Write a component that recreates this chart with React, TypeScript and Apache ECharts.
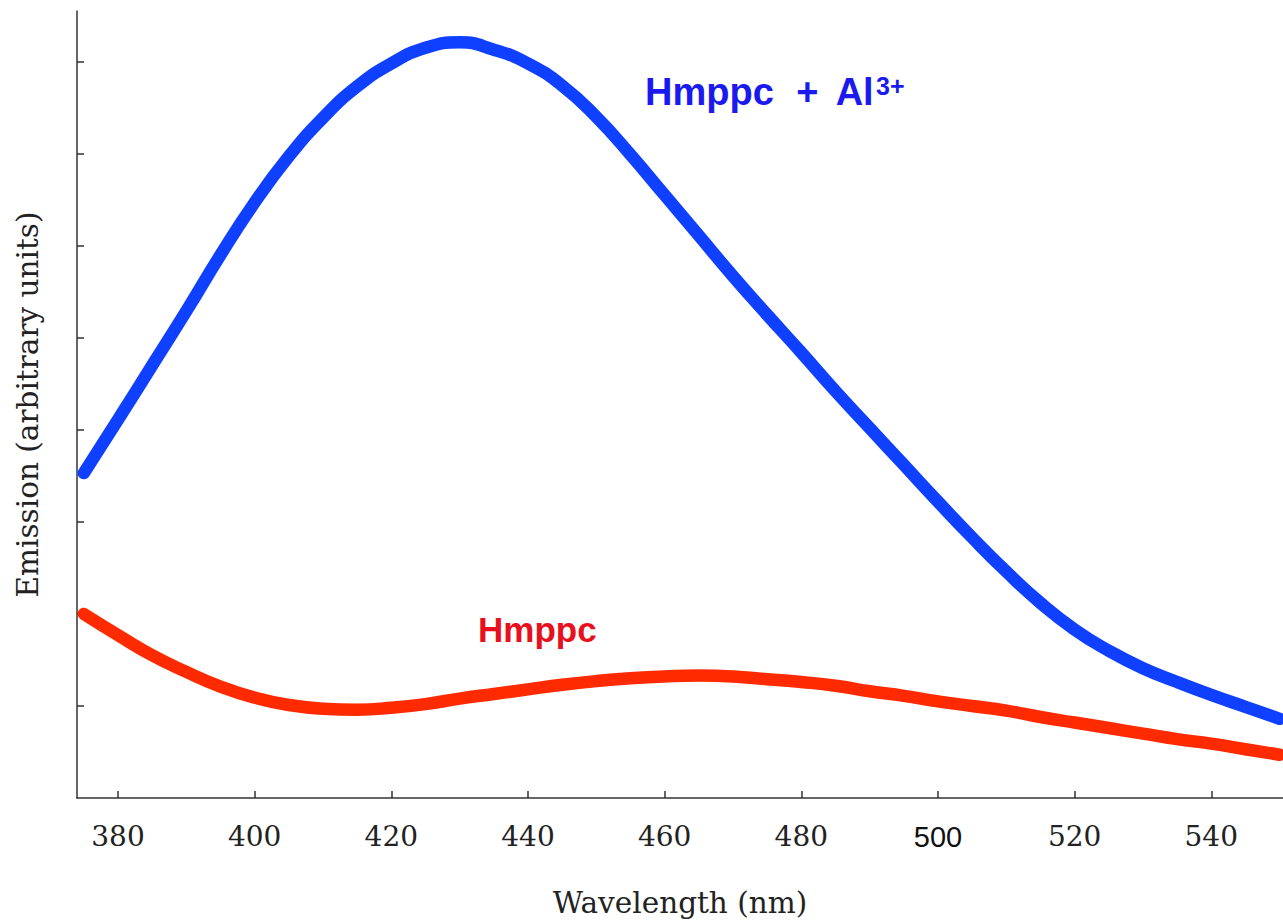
import React, { useEffect, useRef } from "react";
import * as echarts from "echarts";

// Wavelength (nm) / emission (arbitrary units)
const wavelengths = [375, 380, 385, 390, 395, 400, 405, 410, 415, 420, 425, 430, 435, 440, 445, 450, 455, 460, 465, 470, 475, 480, 485, 490, 495, 500, 505, 510, 515, 520, 525, 530, 535, 540, 545, 550];
const hmppcAl = [3.53, 4.11, 4.70, 5.29, 5.90, 6.47, 6.97, 7.39, 7.73, 7.98, 8.15, 8.21, 8.13, 7.98, 7.74, 7.40, 6.99, 6.55, 6.11, 5.67, 5.25, 4.84, 4.42, 4.02, 3.62, 3.22, 2.83, 2.46, 2.12, 1.83, 1.60, 1.41, 1.26, 1.12, 0.99, 0.86];
const hmppc = [2.00, 1.77, 1.55, 1.37, 1.21, 1.09, 1.01, 0.97, 0.96, 0.98, 1.02, 1.08, 1.13, 1.18, 1.23, 1.27, 1.30, 1.32, 1.33, 1.32, 1.29, 1.26, 1.22, 1.16, 1.11, 1.05, 1.00, 0.95, 0.88, 0.82, 0.76, 0.70, 0.64, 0.59, 0.53, 0.47];
const xTicks = [380, 400, 420, 440, 460, 480, 500, 520, 540];
const yTicks = [1, 2, 3, 4, 5, 6, 7, 8];
const seriesNames = ["Hmppc + Al3+", "Hmppc"];

const SERIF = "'DejaVu Serif', 'Liberation Serif', serif";
const SANS = "'Liberation Sans', Arial, sans-serif";

export default function App() {
  const ref = useRef<HTMLDivElement>(null);
  useEffect(() => {
    if (!ref.current) return;
    const chart = echarts.init(ref.current, null, { renderer: "svg" });
    const pair = (xs: number[], ys: number[]) => xs.map((x, i) => [x, ys[i]]);
    chart.setOption({
      animation: false,
      backgroundColor: "#ffffff",
      grid: { left: 77, right: 0, top: 11, bottom: 126, containLabel: false, outerBoundsMode: "none" },
      xAxis: {
        type: "value",
        min: 374,
        max: 550.5,
        name: "Wavelength (nm)",
        nameLocation: "middle",
        nameGap: 90,
        nameTextStyle: { fontFamily: SERIF, fontSize: 29.5, color: "#222" },
        axisLine: { show: true, lineStyle: { color: "#333", width: 1.5 } },
        axisTick: { show: true, inside: true, length: 7, customValues: xTicks, lineStyle: { color: "#333", width: 1.5 } },
        axisLabel: {
          show: true,
          customValues: xTicks,
          margin: 24,
          fontFamily: SERIF,
          fontSize: 28,
          color: "#222",
          formatter: (v: number) => (v === 500 ? "{b|500}" : String(v)),
          rich: { b: { fontFamily: SANS, fontSize: 29, color: "#111" } },
        },
        splitLine: { show: false },
      },
      yAxis: {
        type: "value",
        min: 0,
        max: 8.55,
        name: "Emission (arbitrary units)",
        nameLocation: "middle",
        nameGap: 34,
        nameTextStyle: { fontFamily: SERIF, fontSize: 29.5, color: "#222" },
        axisLine: { show: true, lineStyle: { color: "#333", width: 1.5 } },
        axisTick: { show: true, inside: true, length: 7, customValues: yTicks, lineStyle: { color: "#333", width: 1.5 } },
        axisLabel: { show: false },
        splitLine: { show: false },
      },
      series: [
        {
          name: seriesNames[0],
          type: "line",
          smooth: true,
          symbol: "none",
          data: pair(wavelengths, hmppcAl),
          lineStyle: { color: "#1040ff", width: 12.5, cap: "round", join: "round" },
        },
        {
          name: seriesNames[1],
          type: "line",
          smooth: true,
          symbol: "none",
          data: pair(wavelengths, hmppc),
          lineStyle: { color: "#ff2a00", width: 12.5, cap: "round", join: "round" },
        },
      ],
      graphic: [
        {
          type: "text",
          left: 645,
          top: 72,
          style: {
            text: "{a|Hmppc }{p|+}{a| Al}{s|3+}",
            rich: {
              a: { fontFamily: SANS, fontWeight: "bold", fontSize: 38, fill: "#1a1aee", lineHeight: 40 },
              p: { fontFamily: SANS, fontWeight: "bold", fontSize: 38, fill: "#1a1aee", lineHeight: 40, padding: [0, 8, 0, 12] },
              s: { fontFamily: SANS, fontWeight: "bold", fontSize: 25, fill: "#1a1aee", lineHeight: 40, verticalAlign: "top", padding: [1, 0, 0, 1] },
            },
          },
        },
        {
          type: "text",
          left: 478,
          top: 612,
          style: {
            text: "Hmppc",
            fontFamily: SANS,
            fontWeight: "bold",
            fontSize: 35,
            fill: "#e8101c",
          },
        },
      ],
    });
    return () => chart.dispose();
  }, []);
  return <div ref={ref} style={{ position: "fixed", left: 0, top: 0, width: 1283, height: 924, background: "#fff" }} />;
}
